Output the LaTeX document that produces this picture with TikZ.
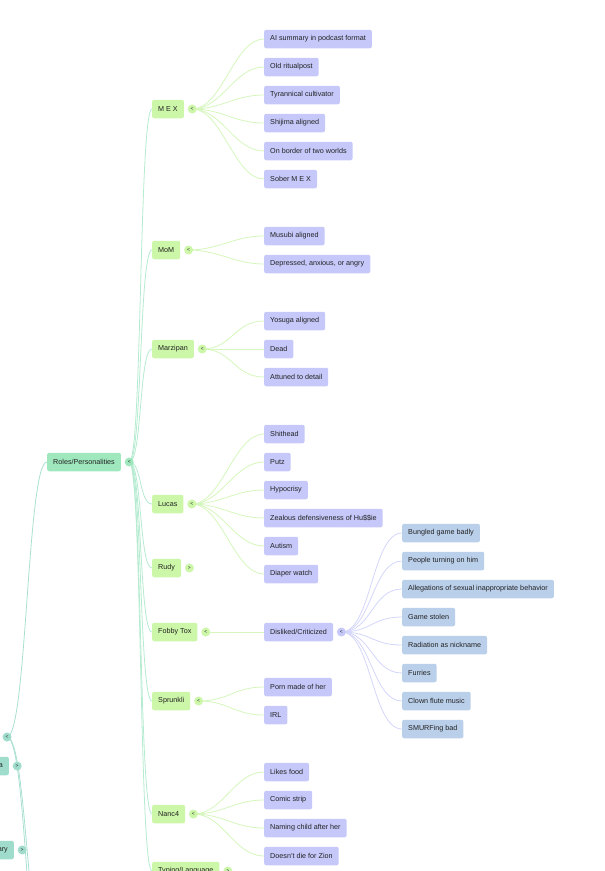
\documentclass[tikz,border=0pt]{standalone}
\usepackage{fontspec}
\setmainfont{Liberation Sans}
\usetikzlibrary{positioning,backgrounds}
\definecolor{rootcol}{HTML}{A0DCCB}
\definecolor{rolecol}{HTML}{9FE8BE}
\definecolor{limecol}{HTML}{CCF6A8}
\definecolor{lavcol}{HTML}{C5C8F9}
\definecolor{bluecol}{HTML}{BACFEA}
\definecolor{rootedge}{HTML}{A9DFD1}
\definecolor{roleedge}{HTML}{B5EBD0}
\definecolor{limeedge}{HTML}{D5F6BC}
\definecolor{lavedge}{HTML}{D3D6FA}
\definecolor{inkcol}{HTML}{222222}
\begin{document}
\begin{tikzpicture}[x=1pt,y=-1pt,
  topic/.style={rectangle,rounded corners=2pt,inner xsep=6pt,inner ysep=0pt,
    minimum height=18.5pt,text=inkcol,font=\fontsize{7.2}{8}\selectfont},
  knob/.style={circle,inner sep=0pt,minimum size=9pt,text=inkcol,
    font=\fontsize{5}{5}\selectfont},
  link/.style={line width=0.8pt}]
\useasboundingbox (0,0) rectangle (605,871);
\clip (0,0) rectangle (605,871);

% left column, cut off by the frame
\node[knob,fill=rootcol] (root-k) at (7,737) {<};
\node[topic,fill=rootcol,anchor=east] (misc) at (9,766) {a};
\node[knob,fill=rootcol,right=3.5pt of misc] (misc-k) {>};
\node[topic,fill=rootcol,anchor=east] (gloss) at (14,850) {ary};
\node[knob,fill=rootcol,right=3.5pt of gloss] (gloss-k) {>};
\coordinate (below-1) at (47,960);
\coordinate (below-2) at (47,1010);

\node[topic,fill=rolecol,anchor=west] (roles) at (47,462) {Roles/Personalities};
\node[knob,fill=rolecol,right=3.5pt of roles] (roles-k) {<};
\begin{scope}[on background layer]
\draw[link,rootedge] (root-k.center) .. controls +(20,0) and +(-20,0) .. (roles.west);
\draw[link,rootedge] (root-k.center) .. controls +(20,0) and +(-20,0) .. (below-1);
\draw[link,rootedge] (root-k.center) .. controls +(20,0) and +(-20,0) .. (below-2);
\end{scope}

% personalities
\foreach \name/\txt/\y/\mark in {mex/M E X/109/<, mom/MoM/250/<, marz/Marzipan/349/<,
    lucas/Lucas/504/<, rudy/Rudy/568/>, fobby/Fobby Tox/632/<, sprunkli/Sprunkli/701/<,
    nanc/Nanc4/814/<, typing/{Typing/Language}/871/>}{
  \node[topic,fill=limecol,anchor=west] (\name) at (152,\y) {\txt};
  \node[knob,fill=limecol,right=3.5pt of \name] (\name-k) {\mark};
  \begin{scope}[on background layer]
  \draw[link,roleedge] (roles-k.center) .. controls +(13,0) and +(-13,0) .. (\name.west);
  \end{scope}
}

% traits
\foreach \name/\y/\list in {
    mex/11/{AI summary in podcast format, Old ritualpost, Tyrannical cultivator,
      Shijima aligned, On border of two worlds, Sober M E X},
    mom/208/{Musubi aligned, {Depressed, anxious, or angry}},
    marz/293/{Yosuga aligned, Dead, Attuned to detail},
    lucas/406/{Shithead, Putz, Hypocrisy, Zealous defensiveness of Hu\$\$ie,
      Autism, Diaper watch},
    fobby/604/{Disliked/Criticized},
    sprunkli/659/{Porn made of her, IRL},
    nanc/744/{Likes food, Comic strip, Naming child after her, Doesn't die for Zion}}{
  \foreach \txt [count=\i] in \list {
    \node[topic,fill=lavcol,anchor=west] (\name-\i) at (264,\y+28*\i) {\txt};
    \begin{scope}[on background layer]
    \draw[link,limeedge] (\name-k.center) .. controls +(30,0) and +(-30,0) .. (\name-\i.west);
    \end{scope}
  }
}
\node[knob,fill=lavcol,right=3.5pt of fobby-1] (dislike-k) {<};

% reasons
\foreach \txt [count=\i] in {Bungled game badly, People turning on him,
    Allegations of sexual inappropriate behavior, Game stolen, Radiation as nickname,
    Furries, Clown flute music, SMURFing bad}{
  \node[topic,fill=bluecol,anchor=west] (dislike-\i) at (402,505+28*\i) {\txt};
  \begin{scope}[on background layer]
  \draw[link,lavedge] (dislike-k.center) .. controls +(30,0) and +(-30,0) .. (dislike-\i.west);
  \end{scope}
}
\end{tikzpicture}
\end{document}
